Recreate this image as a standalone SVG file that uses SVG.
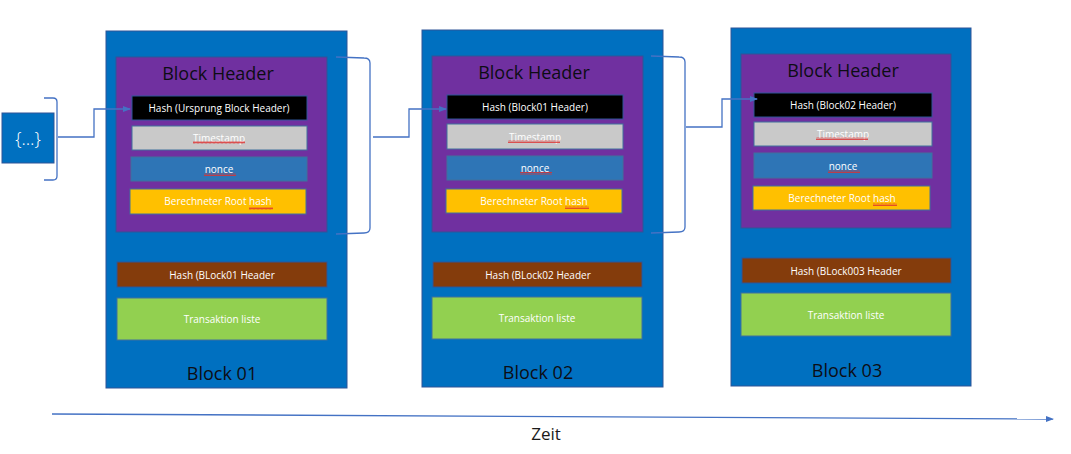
<svg xmlns="http://www.w3.org/2000/svg" width="1071" height="454" viewBox="0 0 1071 454">
<defs>
<style>
.outer{fill:#0070C0;stroke:#2F5597;stroke-width:1}
.hdr{fill:#7030A0;stroke:#2F5597;stroke-width:1}
.bk{fill:#000000;stroke:#2F5597;stroke-width:1}
.ts{fill:#C9C9C9;stroke:#41719C;stroke-width:1}
.nc{fill:#2E75B6;stroke:#41719C;stroke-width:1}
.rh{fill:#FFC000;stroke:#41719C;stroke-width:1}
.br{fill:#843C0C;stroke:#2F5597;stroke-width:1}
.gr{fill:#92D050;stroke:#41719C;stroke-width:1}
.t{font-family:"Open Sans","Liberation Sans",sans-serif;font-size:10px;fill:#FFFFFF;text-anchor:middle;dominant-baseline:central}
.big{font-family:"Open Sans","Liberation Sans",sans-serif;font-size:18px;fill:#0D0D14;text-anchor:middle}
.con{fill:none;stroke:#4472C4;stroke-width:1.3}
.sq{fill:url(#squig)}
</style>
<marker id="arr" markerWidth="8" markerHeight="8" refX="7" refY="4" orient="auto" markerUnits="userSpaceOnUse">
<path d="M0,1 L8,4 L0,7 Z" fill="#4472C4"/>
</marker>
<pattern id="squig" width="4" height="3" patternUnits="userSpaceOnUse">
<polyline points="0,2.5 1,0.5 2,2.5 3,0.5 4,2.5" fill="none" stroke="#E03030" stroke-width="0.8"/>
</pattern>
</defs>

<g id="source">
<rect x="2" y="113" width="52" height="50" fill="#0070C0" stroke="#2F5597" stroke-width="1"/>
<text x="28" y="138" class="t" style="font-size:18px;font-weight:300">{…}</text>
</g>

<g id="block01">
<rect class="outer" x="106" y="31" width="241" height="357"/>
<rect class="hdr" x="116" y="57" width="211" height="175"/>
<text class="big" x="218" y="80">Block Header</text>
<rect class="bk" x="132" y="96" width="175" height="24"/>
<text class="t" x="219" y="108">Hash (Ursprung Block Header)</text>
<rect class="ts" x="132" y="126" width="175" height="24"/>
<text class="t" x="219" y="138">Timestamp</text>
<rect class="sq" x="193" y="141" width="52" height="3"/>
<rect class="nc" x="131" y="157" width="176" height="24"/>
<text class="t" x="219" y="169">nonce</text>
<rect class="sq" x="204" y="173" width="32" height="3"/>
<rect class="rh" x="130" y="189" width="176" height="25"/>
<text class="t" x="218" y="201">Berechneter Root hash</text>
<rect class="sq" x="249" y="207" width="24" height="3"/>
<rect class="br" x="117" y="262" width="210" height="25"/>
<text class="t" x="222" y="274.5">Hash (BLock01 Header</text>
<rect class="gr" x="117" y="298" width="210" height="42"/>
<text class="t" x="222" y="319">Transaktion liste</text>
<text class="big" x="222" y="380">Block 01</text>
</g>

<g id="block02">
<rect class="outer" x="422" y="30" width="241" height="357"/>
<rect class="hdr" x="432" y="56" width="211" height="176"/>
<text class="big" x="534" y="79">Block Header</text>
<rect class="bk" x="447" y="95" width="176" height="24"/>
<text class="t" x="535" y="107">Hash (Block01 Header)</text>
<rect class="ts" x="447" y="124" width="176" height="25"/>
<text class="t" x="535" y="136.5">Timestamp</text>
<rect class="sq" x="508" y="140" width="52" height="3"/>
<rect class="nc" x="447" y="156" width="176" height="24"/>
<text class="t" x="535" y="168">nonce</text>
<rect class="sq" x="520" y="172" width="32" height="3"/>
<rect class="rh" x="446" y="189" width="176" height="24"/>
<text class="t" x="534" y="201">Berechneter Root hash</text>
<rect class="sq" x="565" y="206" width="24" height="3"/>
<rect class="br" x="433" y="262" width="209" height="25"/>
<text class="t" x="538" y="274.5">Hash (BLock02 Header</text>
<rect class="gr" x="432" y="297" width="210" height="42"/>
<text class="t" x="537" y="318">Transaktion liste</text>
<text class="big" x="538" y="379">Block 02</text>
</g>

<g id="block03">
<rect class="outer" x="731" y="28" width="240" height="358"/>
<rect class="hdr" x="741" y="54" width="210" height="174"/>
<text class="big" x="843" y="77">Block Header</text>
<rect class="bk" x="754" y="93" width="178" height="24"/>
<text class="t" x="843" y="105">Hash (Block02 Header)</text>
<rect class="ts" x="754" y="122" width="178" height="24"/>
<text class="t" x="843" y="134">Timestamp</text>
<rect class="sq" x="816" y="137" width="52" height="3"/>
<rect class="nc" x="754" y="153" width="178" height="25"/>
<text class="t" x="843" y="165.5">nonce</text>
<rect class="sq" x="828" y="170" width="32" height="3"/>
<rect class="rh" x="753" y="186" width="177" height="24"/>
<text class="t" x="842" y="198">Berechneter Root hash</text>
<rect class="sq" x="873" y="203" width="24" height="3"/>
<rect class="br" x="742" y="258" width="209" height="25"/>
<text class="t" x="846" y="270.5">Hash (BLock003 Header</text>
<rect class="gr" x="741" y="293" width="210" height="43"/>
<text class="t" x="846" y="314.5">Transaktion liste</text>
<text class="big" x="847" y="377">Block 03</text>
</g>

<g id="connectors">
<path class="con" d="M44,98 L53,98 Q57,98 57,102 L57,176 Q57,180 53,180 L44,180"/>
<path class="con" d="M58,137 L94,137 L94,109 L130,109" marker-end="url(#arr)"/>
<path class="con" d="M336,57 L364,58 Q370,58 370,63 L370,228 Q370,233 364,233 L336,234"/>
<path class="con" d="M373,137 L409,137 L409,109 L446,109" marker-end="url(#arr)"/>
<path class="con" d="M651,56 L679,57 Q685,57 685,62 L685,227 Q685,232 679,232 L651,233"/>
<path class="con" d="M686,127 L722,127 L722,99 L757,99" marker-end="url(#arr)"/>
<path class="con" d="M52,414 L1053,419" marker-end="url(#arr)"/>
</g>

<text x="546" y="440" style="font-family:'Open Sans','Liberation Sans',sans-serif;font-size:17px;fill:#1A1A1A;text-anchor:middle">Zeit</text>
</svg>
